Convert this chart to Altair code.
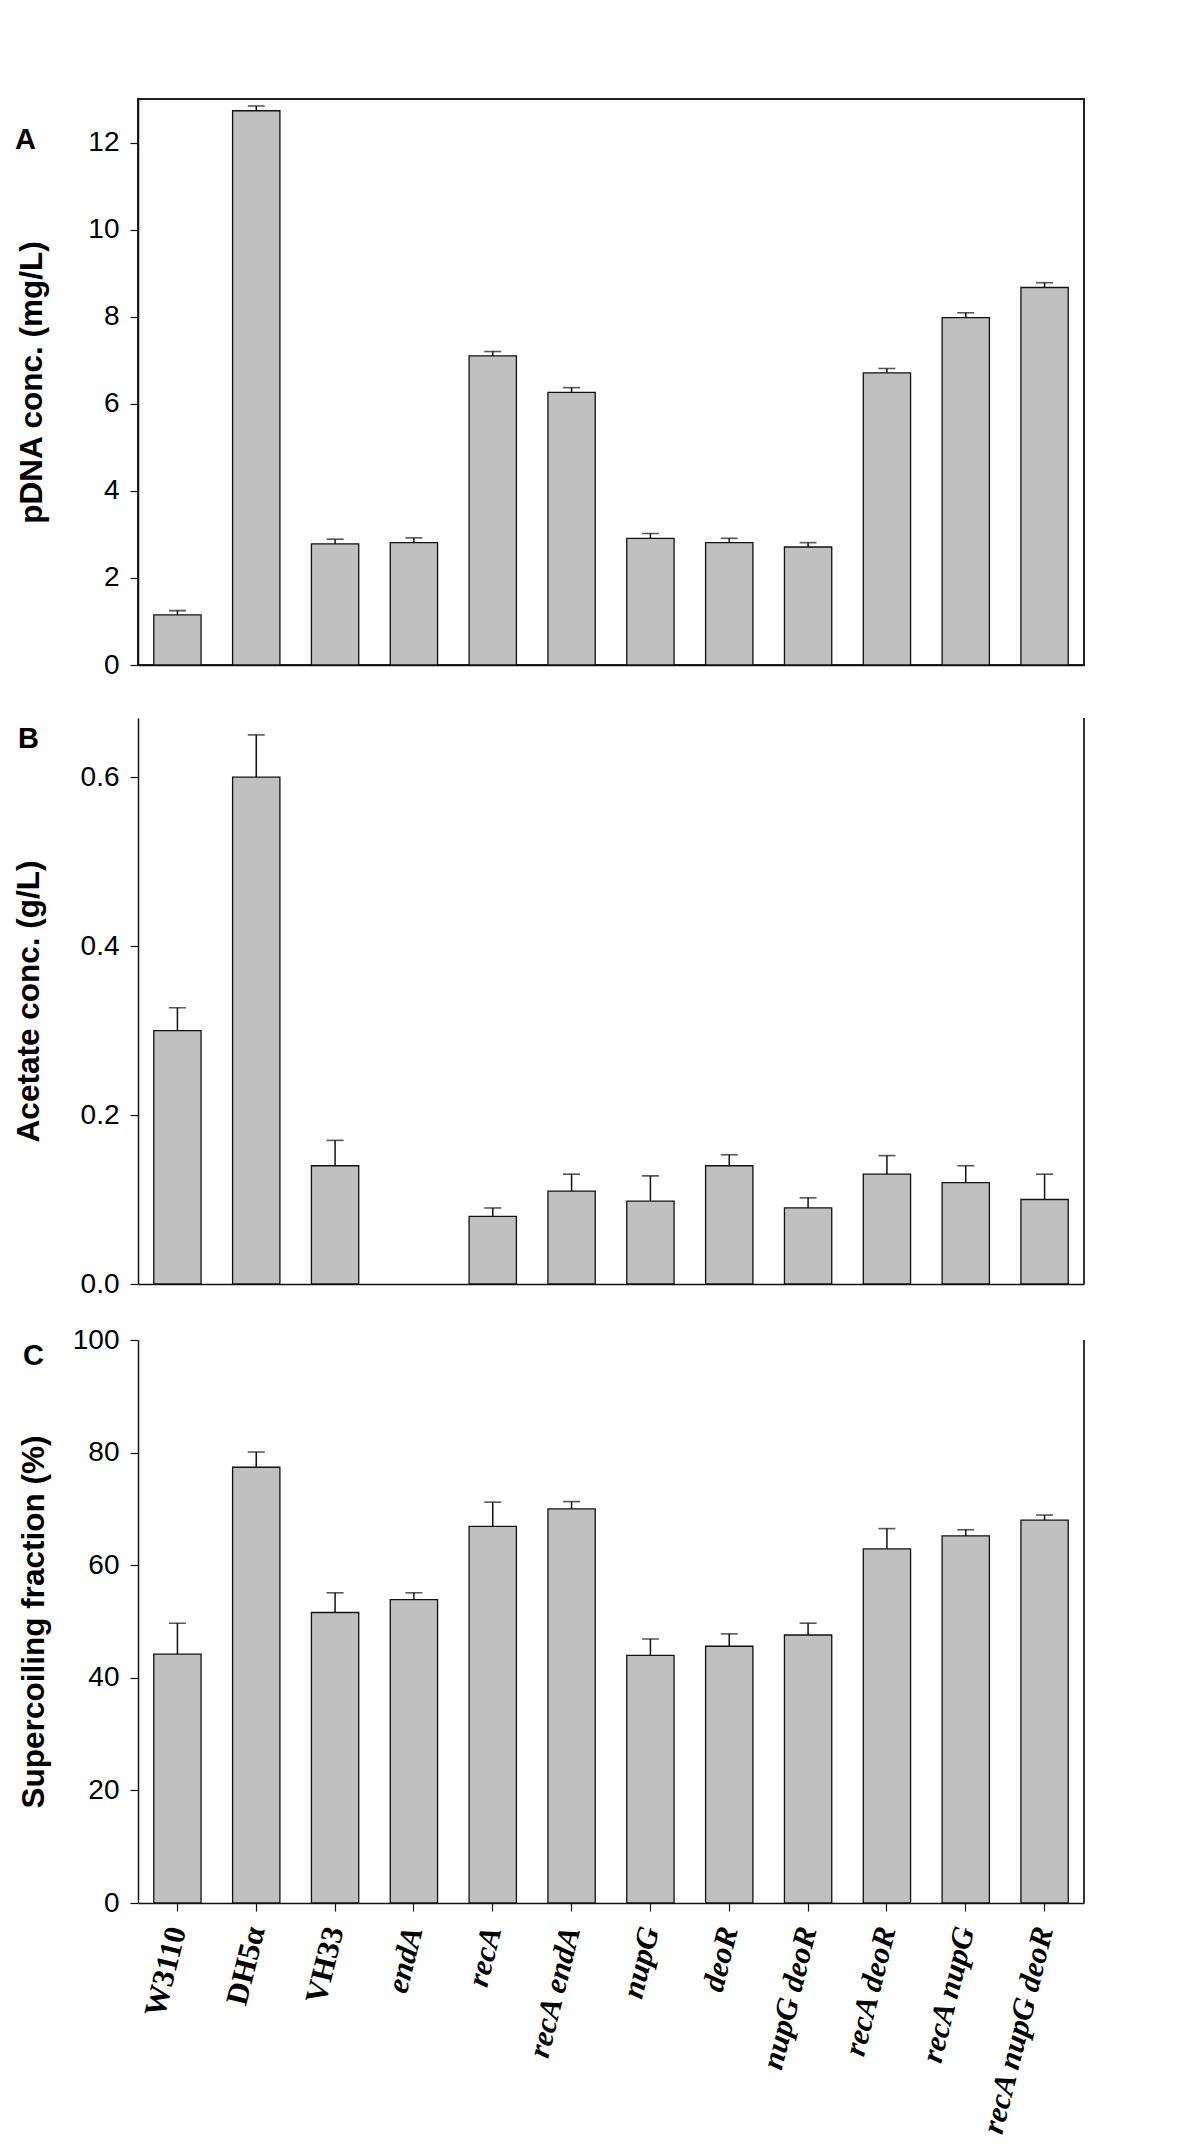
import altair as alt
import pandas as pd

# ---- data ----
strains = ["W3110", "DH5α", "VH33", "endA", "recA", "recA endA", "nupG", "deoR",
           "nupG deoR", "recA deoR", "recA nupG", "recA nupG deoR"]
upright_labels = ["W3110", "DH5α", "VH33"]

pdna = [1.15, 12.73, 2.78, 2.81, 7.10, 6.26, 2.91, 2.81, 2.71, 6.71, 7.98, 8.67]
pdna_err = [0.10, 0.11, 0.11, 0.11, 0.10, 0.11, 0.11, 0.10, 0.10, 0.10, 0.11, 0.11]

acetate = [0.300, 0.600, 0.140, None, 0.080, 0.110, 0.098, 0.140, 0.090, 0.130, 0.120, 0.100]
acetate_err = [0.027, 0.050, 0.030, None, 0.010, 0.020, 0.030, 0.013, 0.012, 0.022, 0.020, 0.030]

supercoil = [44.2, 77.4, 51.6, 53.9, 66.9, 70.0, 44.0, 45.6, 47.6, 62.9, 65.2, 68.0]
supercoil_err = [5.5, 2.7, 3.5, 1.2, 4.3, 1.3, 2.9, 2.2, 2.1, 3.6, 1.1, 0.9]

pdna_ticks = [0, 2, 4, 6, 8, 10, 12]
acetate_ticks = [0.0, 0.2, 0.4, 0.6]
supercoil_ticks = [0, 20, 40, 60, 80, 100]

# ---- styling ----
W = 946
SANS = "Liberation Sans"
SERIF = "Liberation Serif"
INK = "#111111"


def panel(vals, errs, letter, letter_xy, title, title_x, domain, ticks, fmt, H,
          bottom_axis, frame):
    df = pd.DataFrame({"strain": strains, "value": vals, "err": errs})
    base = alt.Chart(df).transform_filter("isValid(datum.value) && isFinite(datum.value)"
                                          ).transform_calculate(upper="datum.value + datum.err")
    x = alt.X("strain:N", sort=strains,
              scale=alt.Scale(domain=strains, paddingInner=0.4, paddingOuter=0.2),
              axis=bottom_axis)

    def y(field):
        return alt.Y(field, type="quantitative",
                     scale=alt.Scale(domain=domain, nice=False, zero=True),
                     axis=alt.Axis(values=ticks, format=fmt, title=title,
                                   titleX=title_x, titleY=H / 2, titleAngle=270,
                                   titleAlign="center", titleBaseline="middle",
                                   titleFont=SANS, titleFontSize=31.5,
                                   titleFontWeight="bold", titleColor="black",
                                   labelFont=SANS, labelFontSize=28,
                                   labelColor="black", labelPadding=11,
                                   tickSize=8, tickColor=INK, tickWidth=1.2,
                                   domainColor=INK, domainWidth=1.5, grid=False))

    bars = base.mark_bar(fill="#c0c0c0", stroke=INK, strokeWidth=1.3).encode(
        x=x, y=y("value"))
    rule = base.mark_rule(color=INK, strokeWidth=1.5).encode(
        x=x, y=y("value"), y2="upper:Q")
    cap = base.mark_tick(color=INK, size=17, thickness=1.6).encode(
        x=x, y=y("upper"))
    lab = alt.Chart(pd.DataFrame({"t": [letter]})).mark_text(
        align="left", baseline="alphabetic", font=SANS, fontSize=29,
        fontWeight="bold", color="black").encode(
        text="t:N", x=alt.value(letter_xy[0]), y=alt.value(letter_xy[1]))
    layers = [bars, rule, cap, lab]
    if not frame:
        edge = alt.Chart(pd.DataFrame({"t": [0]})).mark_rule(
            color="#333333", strokeWidth=2).encode(
            x=alt.value(W), y=alt.value(0), y2=alt.value(H))
        layers.append(edge)
    ch = alt.layer(*layers).properties(width=W, height=H)
    if frame:
        ch = ch.properties(view=alt.ViewBackground(stroke="#222222", strokeWidth=2))
    return ch


axis_a = alt.Axis(title=None, labels=False, ticks=True, tickSize=22,
                  tickColor="white", tickWidth=0.5, domainColor=INK,
                  domainWidth=1.5, grid=False)
axis_b = alt.Axis(title=None, labels=False, ticks=False, domainColor=INK,
                  domainWidth=1.5, grid=False)
axis_c = alt.Axis(
    title=None, labelAngle=284, labelAlign="right", labelBaseline="middle",
    labelFont=SERIF, labelFontSize=31, labelFontWeight="bold",
    labelFontStyle={
        "condition": {"test": "indexof(['W3110','DH5α','VH33'], datum.value) >= 0",
                      "value": "normal"},
        "value": "italic"},
    labelColor="black", labelPadding=16, labelLimit=400, labelOverlap=False,
    tickSize=8, tickColor=INK, tickWidth=1.2, domainColor=INK, domainWidth=1.5,
    grid=False)

A = panel(pdna, pdna_err, "A", (-123, 50), "pDNA conc. (mg/L)", -106,
          [0, 13], pdna_ticks, "d", 566, axis_a, True)
B = panel(acetate, acetate_err, "B", (-120, 30), "Acetate conc. (g/L)", -109,
          [0, 0.67], acetate_ticks, ".1f", 566, axis_b, False)
C = panel(supercoil, supercoil_err, "C", (-115, 25), "Supercoiling fraction (%)", -104,
          [0, 100], supercoil_ticks, "d", 563, axis_c, False)

chart = alt.vconcat(A, B, C, spacing=28).properties(
    padding={"left": 5, "top": 90, "right": 5, "bottom": 5},
    background="white",
).configure_view(stroke=None)

chart.save("out.html", embed_options={"renderer": "svg", "actions": False})
